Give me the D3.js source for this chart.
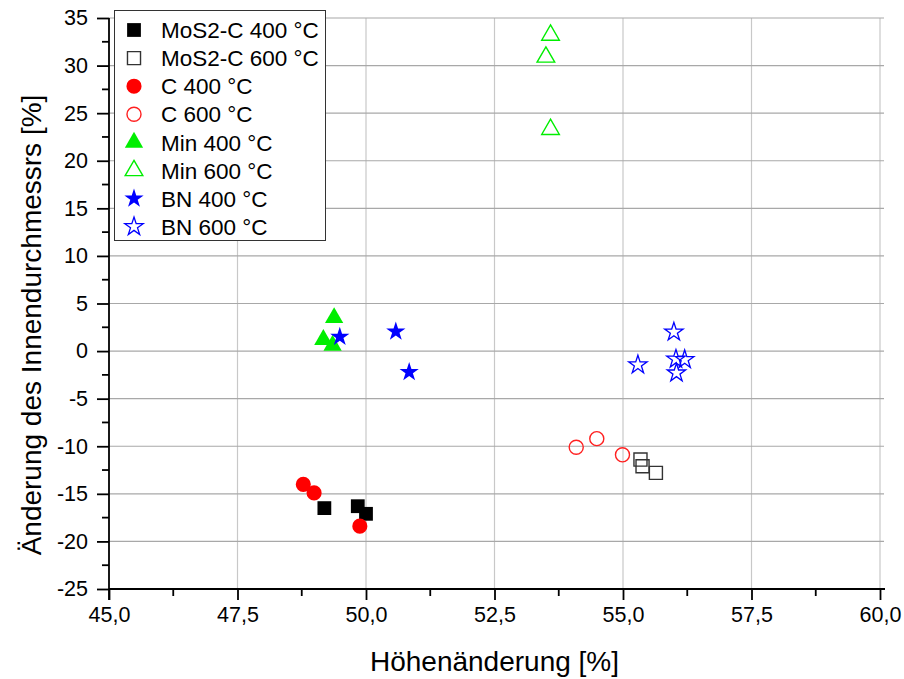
<!DOCTYPE html>
<html>
<head>
<meta charset="utf-8">
<script src="https://cdn.jsdelivr.net/npm/d3@7"></script>
<style>
  html, body { margin: 0; padding: 0; background: #fff; }
  svg { display: block; font-family: "Liberation Sans", Arial, sans-serif; }
</style>
</head>
<body>
<svg id="chart" width="904" height="679"></svg>
<script>
// ---- data ----
const mos2c400X = [49.19, 49.84, 50.0];
const mos2c400Y = [-16.5, -16.3, -17.1];
const mos2c600X = [55.34, 55.38, 55.64];
const mos2c600Y = [-11.4, -12.1, -12.8];
const c400X = [48.78, 48.99, 49.88];
const c400Y = [-14.0, -14.9, -18.4];
const c600X = [54.09, 54.49, 54.99];
const c600Y = [-10.1, -9.2, -10.9];
const min400X = [49.38, 49.17, 49.35];
const min400Y = [3.5, 1.2, 0.6];
const min600X = [53.59, 53.5, 53.59];
const min600Y = [33.2, 30.9, 23.3];
const bn400X = [49.49, 50.58, 50.84];
const bn400Y = [1.5, 2.05, -2.2];
const bn600X = [55.99, 55.29, 56.03, 56.2, 56.04];
const bn600Y = [2.0, -1.45, -0.85, -0.9, -2.3];

const seriesNames = ["MoS2-C 400 °C", "MoS2-C 600 °C", "C 400 °C", "C 600 °C",
                     "Min 400 °C", "Min 600 °C", "BN 400 °C", "BN 600 °C"];
const xTickValues = [45, 47.5, 50, 52.5, 55, 57.5, 60];
const yTickValues = [35, 30, 25, 20, 15, 10, 5, 0, -5, -10, -15, -20, -25];
const xTitle = "Höhenänderung [%]";
const yTitle = "Änderung des Innendurchmessrs [%]";

// ---- styles ----
const styles = [
  { type: d3.symbolSquare,   size: 190, fill: "#000000", stroke: "none",    sw: 0 },
  { type: d3.symbolSquare,   size: 170, fill: "none",    stroke: "#333333", sw: 1.4 },
  { type: d3.symbolCircle,   size: 180, fill: "#ff0000", stroke: "none",    sw: 0 },
  { type: d3.symbolCircle,   size: 155, fill: "none",    stroke: "#ff2020", sw: 1.4 },
  { type: d3.symbolTriangle, size: 145, fill: "#00ee00", stroke: "none",    sw: 0 },
  { type: d3.symbolTriangle, size: 135, fill: "none",    stroke: "#00ee00", sw: 1.4 },
  { type: d3.symbolStar,     size: 115, fill: "#0000ff", stroke: "none",    sw: 0 },
  { type: d3.symbolStar,     size: 105, fill: "none",    stroke: "#0000ff", sw: 1.3 }
];

const seriesData = [
  [mos2c400X, mos2c400Y], [mos2c600X, mos2c600Y],
  [c400X, c400Y], [c600X, c600Y],
  [min400X, min400Y], [min600X, min600Y],
  [bn400X, bn400Y], [bn600X, bn600Y]
].map(([xs, ys]) => xs.map((v, i) => ({ x: v, y: ys[i] })));

const svg = d3.select("#chart");
const mLeft = 109, mRight = 880, mTop = 18, mBottom = 589;

const x = d3.scaleLinear().domain([45, 60]).range([mLeft, mRight]);
const y = d3.scaleLinear().domain([-25, 35]).range([mBottom, mTop]);

const fmtX = v => v.toFixed(1).replace(".", ",");
const fmtY = v => String(v);

// grid
const grid = svg.append("g");
grid.selectAll("line.gx").data(xTickValues.filter(v => v !== 45)).join("line")
  .attr("x1", d => x(d)).attr("x2", d => x(d))
  .attr("y1", mTop).attr("y2", mBottom)
  .attr("stroke", "#c8c8c8").attr("stroke-width", 1.2);
grid.selectAll("line.gy").data(yTickValues.filter(v => v !== -25)).join("line")
  .attr("x1", mLeft).attr("x2", mRight + 4)
  .attr("y1", d => y(d)).attr("y2", d => y(d))
  .attr("stroke", "#a8a8a8").attr("stroke-width", 1.2);

// axes
const xMinor = d3.range(45, 60.01, 1.25).filter(v => Math.abs((v / 2.5) - Math.round(v / 2.5)) > 1e-6);
const yMinor = d3.range(-25, 35.01, 2.5).filter(v => Math.abs((v / 5) - Math.round(v / 5)) > 1e-6);

const xAxis = svg.append("g").attr("transform", `translate(0,${mBottom})`)
  .call(d3.axisBottom(x).tickValues(xTickValues).tickFormat(fmtX).tickSize(11).tickPadding(7).tickSizeOuter(0));
xAxis.append("g").selectAll("line").data(xMinor).join("line")
  .attr("x1", d => x(d)).attr("x2", d => x(d)).attr("y1", 0).attr("y2", 7)
  .attr("stroke", "#000").attr("stroke-width", 1.8);

const yAxis = svg.append("g").attr("transform", `translate(${mLeft},0)`)
  .call(d3.axisLeft(y).tickValues(yTickValues).tickFormat(fmtY).tickSize(12).tickPadding(9).tickSizeOuter(0));
yAxis.append("g").selectAll("line").data(yMinor).join("line")
  .attr("x1", 0).attr("x2", -7).attr("y1", d => y(d)).attr("y2", d => y(d))
  .attr("stroke", "#000").attr("stroke-width", 1.8);

[xAxis, yAxis].forEach(a => {
  a.select(".domain").attr("stroke", "#000").attr("stroke-width", 1.8);
  a.selectAll(".tick line").attr("stroke", "#000").attr("stroke-width", 1.8);
  a.selectAll(".tick text").attr("fill", "#000")
    .style("font-family", "'Liberation Sans', Arial, sans-serif").style("font-size", "21.5px");
});
xAxis.select(".domain").attr("d", `M${mLeft},0H${mRight + 5}`);
yAxis.select(".domain").attr("d", `M0,${mBottom}V${mTop}`);
yAxis.append("line").attr("x1", 0).attr("x2", 0).attr("y1", mBottom).attr("y2", mBottom + 11)
  .attr("stroke", "#000").attr("stroke-width", 1.8);

// titles
svg.append("text").attr("x", (mLeft + mRight) / 2).attr("y", 671)
  .attr("text-anchor", "middle").style("font-size", "28px").text(xTitle);
svg.append("text").attr("transform", `translate(41,${325}) rotate(-90)`)
  .attr("text-anchor", "middle").style("font-size", "28px").text(yTitle);

// points
seriesData.forEach((pts, i) => {
  const s = styles[i];
  svg.append("g").selectAll("path").data(pts).join("path")
    .attr("transform", d => `translate(${x(d.x)},${y(d.y)})`)
    .attr("d", d3.symbol().type(s.type).size(s.size)())
    .attr("fill", s.fill).attr("stroke", s.stroke).attr("stroke-width", s.sw);
});

// legend
const lg = svg.append("g");
lg.append("rect").attr("x", 114.5).attr("y", 10.5).attr("width", 211).attr("height", 230)
  .attr("fill", "#fff").attr("stroke", "#333").attr("stroke-width", 1);
seriesNames.forEach((name, i) => {
  const s = styles[i];
  const cy = 30 + i * 28.1;
  lg.append("path").attr("transform", `translate(134,${cy})`)
    .attr("d", d3.symbol().type(s.type).size(s.size)())
    .attr("fill", s.fill).attr("stroke", s.stroke).attr("stroke-width", s.sw);
  lg.append("text").attr("x", 161).attr("y", cy).attr("dy", "0.36em")
    .style("font-size", "22.5px").text(name);
});
</script>
</body>
</html>
